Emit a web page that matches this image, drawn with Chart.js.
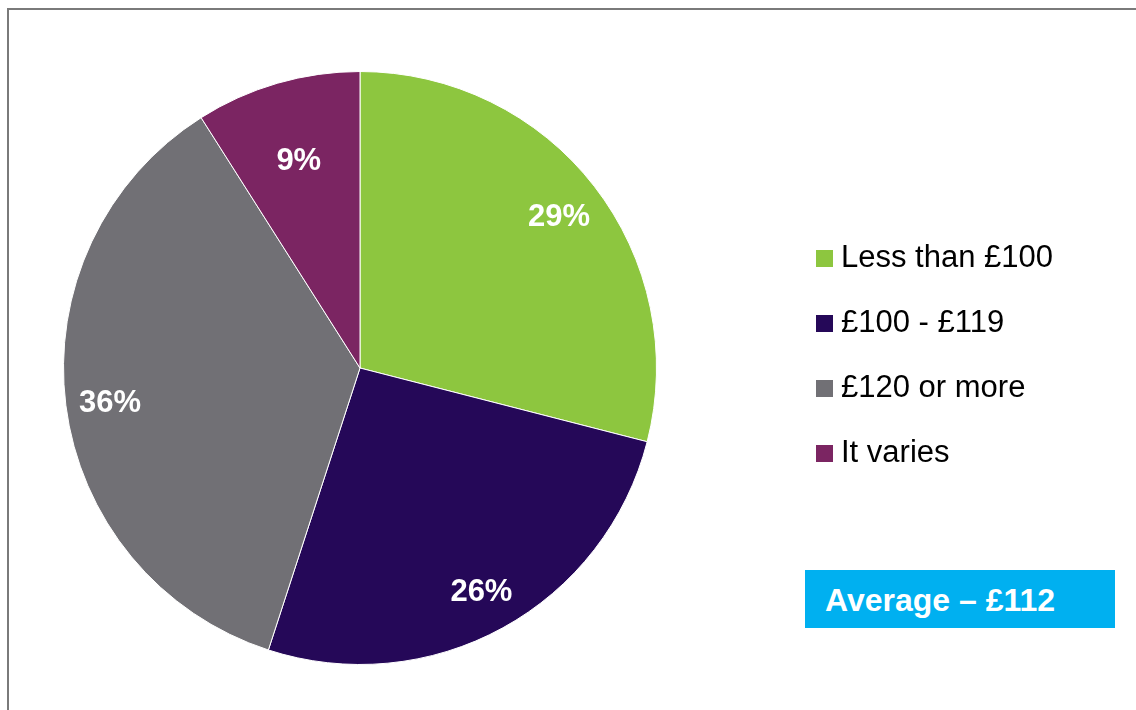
<!DOCTYPE html>
<html>
<head>
<meta charset="utf-8">
<script src="https://cdn.jsdelivr.net/npm/chart.js@4.4.1/dist/chart.umd.min.js"></script>
<style>
  body { margin: 0; background: #fff; font-family: "Liberation Sans", Arial, sans-serif; }
  #wrap { position: relative; width: 1136px; height: 710px; overflow: hidden; }
  #frame { position: absolute; left: 7px; top: 8px; width: 1200px; height: 800px;
           border-left: 2px solid #7a7a7a; border-top: 2px solid #7a7a7a; }
  canvas { position: absolute; left: 0; top: 0; }
  #legend { position: absolute; left: 816px; top: 239px; }
  .item { height: 65px; display: flex; align-items: flex-start; font-size: 31px; color: #000; }
  .sw { width: 17px; height: 17px; margin-top: 11px; margin-right: 8px; }
  #avg { position: absolute; left: 805px; top: 570px; width: 310px; height: 58px;
         background: #00b0f0; color: #fff; font-weight: bold; font-size: 32px;
         line-height: 60px; box-sizing: border-box; padding-left: 20px; }
</style>
</head>
<body>
<div id="wrap">
  <div id="frame"></div>
  <canvas id="pieChart" width="1136" height="710"></canvas>
  <div id="legend"></div>
  <div id="avg">Average – £112</div>
</div>
<script>
// --- Data ---
const categories = ["Less than £100", "£100 - £119", "£120 or more", "It varies"];
const shares = [29, 26, 36, 9];
const colours = ["#8dc63f", "#250858", "#717075", "#7b2562"];

// label distance from centre, as a share of the radius
const labelRadius = [0.85, 0.85, 0.85, 0.74];

// --- Legend ---
document.getElementById("legend").innerHTML = categories.map((c, i) => `
  <div class="item"><span class="sw" style="background:${colours[i]}"></span><span>${c}</span></div>
`).join("");

// --- Slice labels ---
const sliceLabels = {
  id: "sliceLabels",
  afterDatasetsDraw(chart) {
    const ctx = chart.ctx;
    const meta = chart.getDatasetMeta(0);
    ctx.save();
    ctx.fillStyle = "#fff";
    ctx.font = "bold 31px 'Liberation Sans', Arial, sans-serif";
    ctx.textAlign = "center";
    ctx.textBaseline = "middle";
    meta.data.forEach((arc, i) => {
      const mid = (arc.startAngle + arc.endAngle) / 2;
      const r = arc.outerRadius * labelRadius[i];
      ctx.fillText(shares[i] + "%", arc.x + Math.cos(mid) * r, arc.y + Math.sin(mid) * r + 4);
    });
    ctx.restore();
  }
};

new Chart(document.getElementById("pieChart"), {
  type: "pie",
  data: {
    labels: categories,
    datasets: [{
      data: shares,
      backgroundColor: colours,
      borderColor: "#ffffff",
      borderWidth: 1
    }]
  },
  options: {
    responsive: false,
    animation: false,
    layout: { padding: { left: 63, top: 71, right: 479, bottom: 45 } },
    plugins: {
      legend: { display: false },
      tooltip: { enabled: false }
    }
  },
  plugins: [sliceLabels]
});
</script>
</body>
</html>
